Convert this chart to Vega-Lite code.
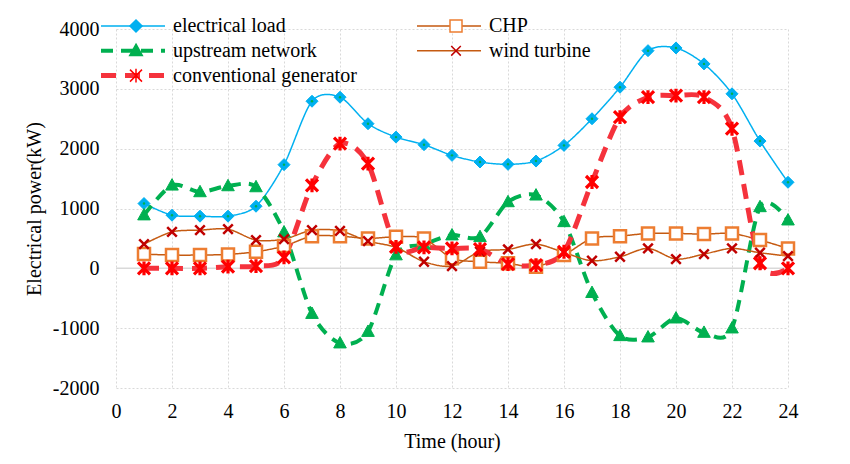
{
  "$schema": "https://vega.github.io/schema/vega-lite/v6.json",
  "width": 672,
  "height": 359,
  "autosize": {"type": "none"},
  "padding": {"left": 116, "top": 29, "right": 62, "bottom": 76},
  "background": "white",
  "config": {
    "font": "Liberation Serif",
    "view": {"stroke": null},
    "axis": {
      "labelFont": "Liberation Serif",
      "labelFontSize": 20,
      "labelColor": "#000000",
      "titleFont": "Liberation Serif",
      "titleFontSize": 20,
      "titleFontWeight": "normal",
      "titleColor": "#000000",
      "domain": false,
      "ticks": false,
      "tickSize": 0,
      "grid": true,
      "gridColor": "#D9D9D9",
      "gridDash": [2, 2],
      "gridWidth": 1,
      "labelFlush": false,
      "labelOverlap": false
    },
    "legend": {
      "labelFont": "Liberation Serif",
      "labelFontSize": 20,
      "labelColor": "#000000",
      "labelLimit": 400,
      "padding": 0
    }
  },
  "data": {
    "values": [
      {"hour": 1, "electrical load": 1083, "upstream network": 890, "CHP": 238, "wind turbine": 405, "conventional generator": 0},
      {"hour": 2, "electrical load": 888, "upstream network": 1388, "CHP": 222, "wind turbine": 610, "conventional generator": 0},
      {"hour": 3, "electrical load": 872, "upstream network": 1277, "CHP": 222, "wind turbine": 638, "conventional generator": 0},
      {"hour": 4, "electrical load": 872, "upstream network": 1377, "CHP": 233, "wind turbine": 655, "conventional generator": 27},
      {"hour": 5, "electrical load": 1038, "upstream network": 1360, "CHP": 277, "wind turbine": 472, "conventional generator": 38},
      {"hour": 6, "electrical load": 1733, "upstream network": 605, "CHP": 372, "wind turbine": 488, "conventional generator": 183},
      {"hour": 7, "electrical load": 2793, "upstream network": -757, "CHP": 538, "wind turbine": 638, "conventional generator": 1388},
      {"hour": 8, "electrical load": 2860, "upstream network": -1250, "CHP": 538, "wind turbine": 627, "conventional generator": 2083},
      {"hour": 9, "electrical load": 2417, "upstream network": -1057, "CHP": 500, "wind turbine": 455, "conventional generator": 1750},
      {"hour": 10, "electrical load": 2193, "upstream network": 222, "CHP": 527, "wind turbine": 350, "conventional generator": 360},
      {"hour": 11, "electrical load": 2067, "upstream network": 400, "CHP": 500, "wind turbine": 110, "conventional generator": 350},
      {"hour": 12, "electrical load": 1888, "upstream network": 555, "CHP": 167, "wind turbine": 38, "conventional generator": 333},
      {"hour": 13, "electrical load": 1777, "upstream network": 527, "CHP": 110, "wind turbine": 280, "conventional generator": 322},
      {"hour": 14, "electrical load": 1738, "upstream network": 1110, "CHP": 83, "wind turbine": 317, "conventional generator": 72},
      {"hour": 15, "electrical load": 1793, "upstream network": 1222, "CHP": 27, "wind turbine": 405, "conventional generator": 55},
      {"hour": 16, "electrical load": 2055, "upstream network": 777, "CHP": 222, "wind turbine": 265, "conventional generator": 277},
      {"hour": 17, "electrical load": 2500, "upstream network": -407, "CHP": 500, "wind turbine": 127, "conventional generator": 1443},
      {"hour": 18, "electrical load": 3027, "upstream network": -1128, "CHP": 538, "wind turbine": 193, "conventional generator": 2527},
      {"hour": 19, "electrical load": 3638, "upstream network": -1150, "CHP": 583, "wind turbine": 333, "conventional generator": 2860},
      {"hour": 20, "electrical load": 3683, "upstream network": -833, "CHP": 583, "wind turbine": 155, "conventional generator": 2888},
      {"hour": 21, "electrical load": 3417, "upstream network": -1073, "CHP": 572, "wind turbine": 238, "conventional generator": 2860},
      {"hour": 22, "electrical load": 2917, "upstream network": -1000, "CHP": 583, "wind turbine": 333, "conventional generator": 2333},
      {"hour": 23, "electrical load": 2127, "upstream network": 1027, "CHP": 472, "wind turbine": 260, "conventional generator": 85},
      {"hour": 24, "electrical load": 1438, "upstream network": 805, "CHP": 333, "wind turbine": 205, "conventional generator": 0}
    ]
  },
  "transform": [
    {"fold": ["electrical load", "upstream network", "CHP", "wind turbine", "conventional generator"], "as": ["series", "value"]}
  ],
  "resolve": {"scale": {"strokeWidth": "independent"}},
  "layer": [
    {
      "data": {"values": [{"level": 0}]},
      "mark": {"type": "rule", "color": "#D9D9D9", "strokeWidth": 1.5},
      "encoding": {
        "y": {"field": "level", "type": "quantitative", "scale": {"domain": [-2000, 4000], "nice": false}}
      }
    },
    {
      "mark": {"type": "line", "interpolate": "cardinal", "tension": 0.15},
      "encoding": {
        "x": {
          "field": "hour", "type": "quantitative",
          "scale": {"domain": [0, 24], "nice": false},
          "axis": {
            "values": [0, 2, 4, 6, 8, 10, 12, 14, 16, 18, 20, 22, 24],
            "format": "d",
            "title": "Time (hour)",
            "labelFont": "Liberation Serif",
            "titleFont": "Liberation Serif",
            "labelBaseline": "middle",
            "labelPadding": 23,
            "titleBaseline": "middle",
            "titleY": 53
          }
        },
        "y": {
          "field": "value", "type": "quantitative",
          "scale": {"domain": [-2000, 4000], "nice": false},
          "axis": {
            "values": [-2000, -1000, 0, 1000, 2000, 3000, 4000],
            "labelExpr": "datum.value < 0 ? '-' + abs(datum.value) : '' + datum.value",
            "title": "Electrical power(kW)",
            "labelFont": "Liberation Serif",
            "titleFont": "Liberation Serif",
            "labelPadding": 17,
            "labelBaseline": "middle",
            "titleAngle": -90,
            "titleBaseline": "middle",
            "titleAlign": "center",
            "titleX": -82,
            "titleY": 179.5
          }
        },
        "color": {
          "field": "series", "type": "nominal",
          "scale": {
            "domain": ["electrical load", "upstream network", "conventional generator", "CHP", "wind turbine"],
            "range": ["#00B0F0", "#00B050", "#F5323C", "#C55A11", "#C55A11"]
          },
          "legend": {
            "orient": "none",
            "legendX": 7,
            "legendY": -13,
            "columns": 2,
            "title": null,
            "labelFont": "Liberation Serif",
            "symbolType": "M-4,0H4",
            "symbolSize": 256,
            "labelOffset": 30,
            "columnPadding": 57,
            "rowPadding": 4.8,
            "encode": {
              "symbols": {
                "update": {
                  "strokeWidth": {"signal": "datum.value === 'upstream network' ? 4 : datum.value === 'conventional generator' ? 5 : 1.5"}
                }
              }
            }
          }
        },
        "strokeDash": {
          "field": "series", "type": "nominal",
          "scale": {
            "domain": ["electrical load", "upstream network", "conventional generator", "CHP", "wind turbine"],
            "range": [[1, 0], [12, 8], [15, 9], [1, 0], [1, 0]]
          }
        },
        "strokeWidth": {
          "field": "series", "type": "nominal",
          "scale": {
            "type": "ordinal",
            "domain": ["electrical load", "upstream network", "conventional generator", "CHP", "wind turbine"],
            "range": [1.5, 4, 5, 1.5, 1.5]
          },
          "legend": null
        }
      }
    },
    {
      "mark": {"type": "point", "filled": false, "size": 144, "opacity": 1},
      "encoding": {
        "x": {"field": "hour", "type": "quantitative"},
        "y": {"field": "value", "type": "quantitative"},
        "shape": {
          "field": "series", "type": "nominal",
          "scale": {
            "range": [
              "M-1,-1H1V1H-1Z",
              "M-1,-1L1,1M1,-1L-1,1M0,-1.15V1.15",
              "M0,-1L1,0L0,1L-1,0Z",
              "M0,-1.1L1.05,0.8L-1.05,0.8Z",
              "M-0.8,-0.8L0.8,0.8M0.8,-0.8L-0.8,0.8"
            ]
          },
          "legend": {
            "orient": "none",
            "legendX": 10,
            "legendY": -13,
            "columns": 2,
            "title": null,
            "labelFont": "Liberation Serif",
            "values": ["electrical load", "upstream network", "conventional generator", "CHP", "wind turbine"],
            "symbolSize": 144,
            "labelOffset": 36,
            "labelOpacity": 0,
            "columnPadding": 80,
            "rowPadding": 4.8,
            "encode": {
              "symbols": {
                "update": {
                  "strokeWidth": {"signal": "datum.value === 'conventional generator' ? 3.2 : (datum.value === 'CHP' || datum.value === 'wind turbine') ? 2.5 : 1"}
                }
              }
            }
          }
        },
        "fill": {
          "field": "series", "type": "nominal",
          "scale": {"range": ["#FFFFFF", "#FF0000", "#00B0F0", "#00B050", "#C00000"]}
        },
        "stroke": {
          "field": "series", "type": "nominal",
          "scale": {"range": ["#ED7D31", "#FF0000", "#00B0F0", "#00B050", "#C00000"]}
        },
        "strokeWidth": {
          "field": "series", "type": "nominal",
          "scale": {"type": "ordinal", "range": [2.5, 3.2, 1, 1, 2.5]},
          "legend": null
        }
      }
    },
    {
      "transform": [{"filter": {"field": "series", "equal": "electrical load"}}],
      "mark": {"type": "point", "shape": "circle", "filled": true, "size": 6, "color": "#00B050", "opacity": 1},
      "encoding": {
        "x": {"field": "hour", "type": "quantitative"},
        "y": {"field": "value", "type": "quantitative"}
      }
    }
  ]
}
